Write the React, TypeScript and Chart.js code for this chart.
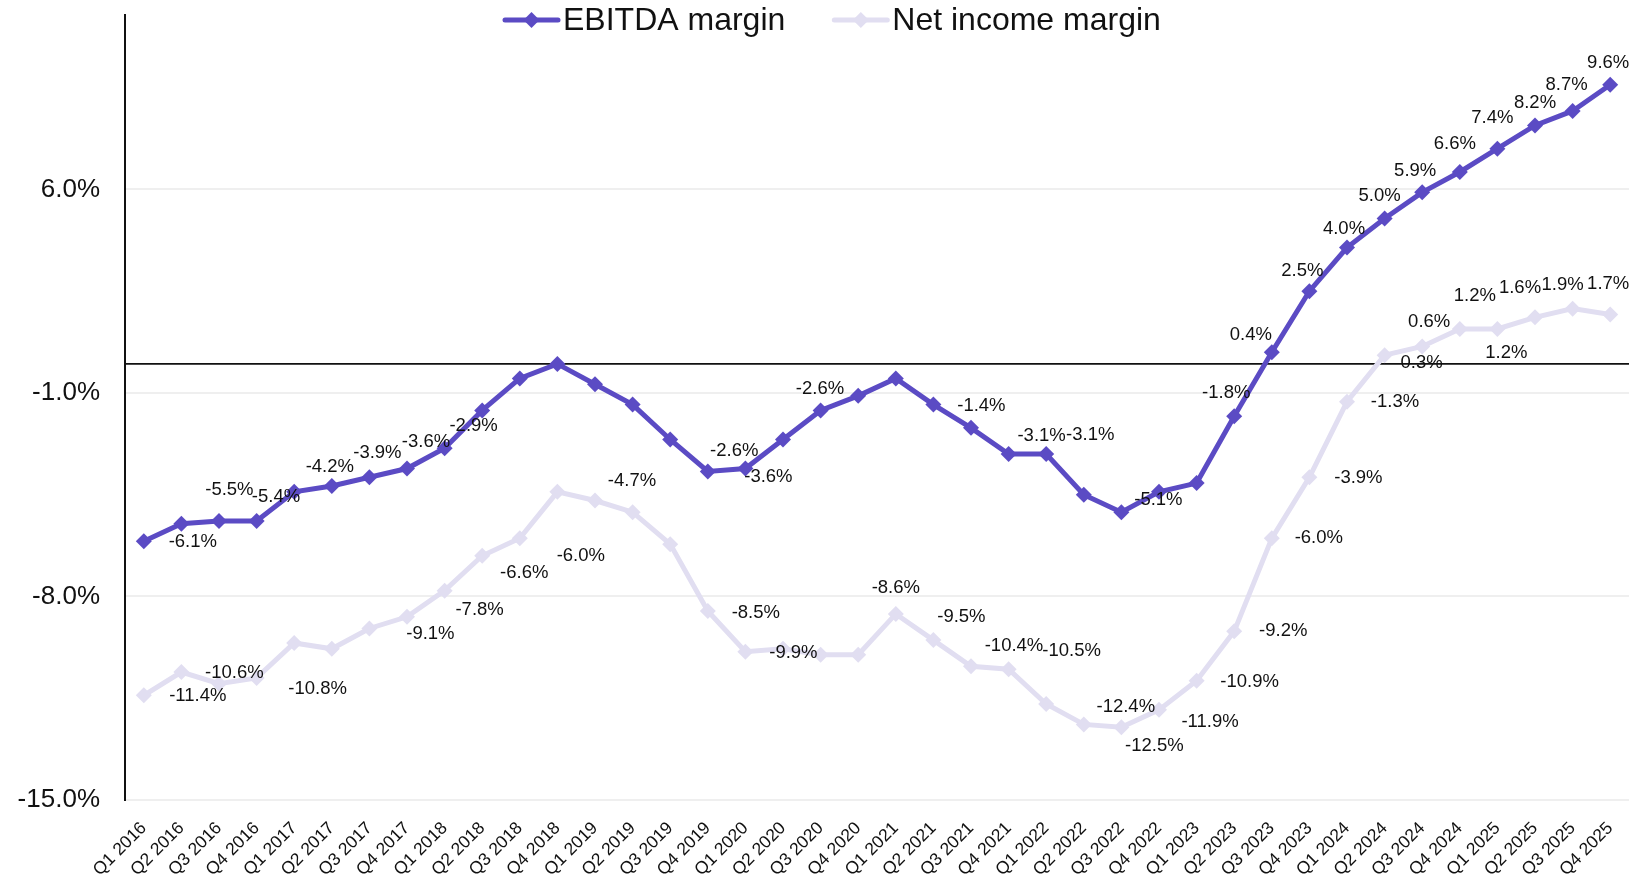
import React, { useEffect, useRef } from "react";
import { Chart, registerables } from "chart.js";

Chart.register(...registerables);

const quarters = [
  "Q1 2016", "Q2 2016", "Q3 2016", "Q4 2016",
  "Q1 2017", "Q2 2017", "Q3 2017", "Q4 2017",
  "Q1 2018", "Q2 2018", "Q3 2018", "Q4 2018",
  "Q1 2019", "Q2 2019", "Q3 2019", "Q4 2019",
  "Q1 2020", "Q2 2020", "Q3 2020", "Q4 2020",
  "Q1 2021", "Q2 2021", "Q3 2021", "Q4 2021",
  "Q1 2022", "Q2 2022", "Q3 2022", "Q4 2022",
  "Q1 2023", "Q2 2023", "Q3 2023", "Q4 2023",
  "Q1 2024", "Q2 2024", "Q3 2024", "Q4 2024",
  "Q1 2025", "Q2 2025", "Q3 2025", "Q4 2025",
];

const ebitdaMargin = [
  -6.1, -5.5, -5.4, -5.4,
  -4.4, -4.2, -3.9, -3.6,
  -2.9, -1.6, -0.5, 0.0,
  -0.7, -1.4, -2.6, -3.7,
  -3.6, -2.6, -1.6, -1.1,
  -0.5, -1.4, -2.2, -3.1,
  -3.1, -4.5, -5.1, -4.4,
  -4.1, -1.8, 0.4, 2.5,
  4.0, 5.0, 5.9, 6.6,
  7.4, 8.2, 8.7, 9.6,
];

const netIncomeMargin = [
  -11.4, -10.6, -11.0, -10.8,
  -9.6, -9.8, -9.1, -8.7,
  -7.8, -6.6, -6.0, -4.4,
  -4.7, -5.1, -6.2, -8.5,
  -9.9, -9.8, -10.0, -10.0,
  -8.6, -9.5, -10.4, -10.5,
  -11.7, -12.4, -12.5, -11.9,
  -10.9, -9.2, -6.0, -3.9,
  -1.3, 0.3, 0.6, 1.2,
  1.2, 1.6, 1.9, 1.7,
];

const yTickValues = [-15, -8, -1, 6];

const seriesNames = ["EBITDA margin", "Net income margin"];
const seriesColors = ["#5B4BC4", "#E1DEF1"];

// Label placement (offset of label centre from its point); null = label hidden
type Off = [number, number] | null;
const ebitdaLabelOffsets: Off[] = [
  [49, 1], [48, -34], [57, -24], null,
  null, [-2, -19], [8, -24], [19, -27],
  [29, -22], null, null, null,
  null, null, [64, 11], null,
  [23, 8], [37, -51], null, null,
  null, [48, 1], null, [33, -18],
  [44, -19], null, [37, -12], null,
  null, [-8, -23], [-21, -17], [-7, -20],
  [-3, -19], [-5, -23], [-7, -21], [-5, -28],
  [-5, -31], [0, -23], [-6, -26], [-2, -22],
];
const netLabelOffsets: Off[] = [
  [54, 1], [53, 1], null, [61, 11],
  null, null, [61, 5], null,
  [35, 19], [42, 17], [61, 18], null,
  [37, -20], null, null, [48, 2],
  [48, 1], null, null, null,
  [0, -26], [28, -23], [43, -20], [63, -18],
  null, [42, -18], [33, 19], [51, 12],
  [53, 1], [49, 0], [47, 0], [49, 1],
  [48, 0], [37, 8], [7, -25], [15, -33],
  [9, 24], [-15, -29], [-10, -24], [-2, -31],
];
const labelOffsets = [ebitdaLabelOffsets, netLabelOffsets];

const FONT = "'Liberation Sans', Arial, Helvetica, sans-serif";

const zeroLinePlugin = {
  id: "zeroLine",
  beforeDatasetsDraw(chart: any) {
    const { ctx, chartArea, scales } = chart;
    const y = scales.y.getPixelForValue(0);
    ctx.save();
    ctx.strokeStyle = "#111111";
    ctx.lineWidth = 1.6;
    ctx.beginPath();
    ctx.moveTo(chartArea.left, y);
    ctx.lineTo(chartArea.right, y);
    ctx.stroke();
    ctx.restore();
  },
};

const dataLabelPlugin = {
  id: "pointLabels",
  afterDatasetsDraw(chart: any) {
    const { ctx } = chart;
    ctx.save();
    ctx.font = `18.5px ${FONT}`;
    ctx.fillStyle = "#111111";
    ctx.textAlign = "center";
    ctx.textBaseline = "middle";
    chart.data.datasets.forEach((ds: any, di: number) => {
      const meta = chart.getDatasetMeta(di);
      meta.data.forEach((pt: any, i: number) => {
        const off = labelOffsets[di][i];
        if (!off) return;
        const v = ds.data[i] as number;
        ctx.fillText(v.toFixed(1) + "%", pt.x + off[0], pt.y + off[1]);
      });
    });
    ctx.restore();
  },
};

const legendPlugin = {
  id: "customLegend",
  afterDraw(chart: any) {
    const { ctx } = chart;
    ctx.save();
    ctx.font = `32px ${FONT}`;
    ctx.textBaseline = "middle";
    ctx.textAlign = "left";
    let x = 503;
    const y = 20;
    const lineLen = 57;
    seriesNames.forEach((name, i) => {
      ctx.strokeStyle = seriesColors[i];
      ctx.fillStyle = seriesColors[i];
      ctx.lineWidth = 5;
      ctx.lineCap = "round";
      ctx.beginPath();
      ctx.moveTo(x + 2, y);
      ctx.lineTo(x + lineLen - 2, y);
      ctx.stroke();
      const cx = x + lineLen / 2;
      const r = 8;
      ctx.beginPath();
      ctx.moveTo(cx, y - r);
      ctx.lineTo(cx + r, y);
      ctx.lineTo(cx, y + r);
      ctx.lineTo(cx - r, y);
      ctx.closePath();
      ctx.fill();
      ctx.fillStyle = "#111111";
      const tx = x + lineLen + 3;
      ctx.fillText(name, tx, y + 1);
      x = tx + ctx.measureText(name).width + 47;
    });
    ctx.restore();
  },
};

export default function App() {
  const canvasRef = useRef<HTMLCanvasElement | null>(null);

  useEffect(() => {
    document.body.style.margin = "0";
    document.body.style.overflow = "hidden";
    const canvas = canvasRef.current;
    if (!canvas) return;
    const data = [ebitdaMargin, netIncomeMargin];
    const chart = new Chart(canvas, {
      type: "line",
      data: {
        labels: quarters,
        datasets: data.map((d, i) => ({
          label: seriesNames[i],
          data: d,
          borderColor: seriesColors[i],
          backgroundColor: seriesColors[i],
          pointBackgroundColor: seriesColors[i],
          pointBorderColor: seriesColors[i],
          borderWidth: 5,
          pointStyle: "rectRot",
          pointRadius: 8,
          pointBorderWidth: 0,
          tension: 0,
          fill: false,
          order: i === 0 ? 0 : 1,
        })),
      },
      options: {
        animation: false,
        responsive: false,
        maintainAspectRatio: false,
        devicePixelRatio: 1,
        layout: { autoPadding: false, padding: { top: 15, right: 2, left: 0, bottom: 0 } },
        plugins: {
          legend: { display: false },
          tooltip: { enabled: false },
        },
        scales: {
          x: {
            offset: true,
            grid: { display: false, drawTicks: false },
            border: { display: false },
            ticks: {
              autoSkip: false,
              maxRotation: 45,
              minRotation: 45,
              padding: 18,
              color: "#111111",
              font: { size: 17.5, family: FONT },
            },
            afterFit(scale: any) {
              scale.height = 76;
              scale.paddingLeft = 0;
              scale.paddingRight = 0;
            },
          },
          y: {
            min: -15,
            max: 12,
            afterBuildTicks(axis: any) {
              axis.ticks = yTickValues.map((v) => ({ value: v }));
            },
            grid: { color: "#EFEFEF", lineWidth: 2, drawTicks: false },
            border: { display: true, color: "#111111", width: 2 },
            ticks: {
              padding: 25,
              color: "#111111",
              font: { size: 26, family: FONT },
              callback: (v: any) => Number(v).toFixed(1) + "%",
            },
            afterFit(scale: any) {
              scale.width = 125;
              scale.paddingTop = 0;
              scale.paddingBottom = 0;
            },
          },
        },
      },
      plugins: [zeroLinePlugin, dataLabelPlugin, legendPlugin],
    });
    return () => chart.destroy();
  }, []);

  return (
    <div style={{ width: 1631, height: 876, background: "#ffffff" }}>
      <canvas ref={canvasRef} width={1631} height={876} style={{ display: "block" }} />
    </div>
  );
}
